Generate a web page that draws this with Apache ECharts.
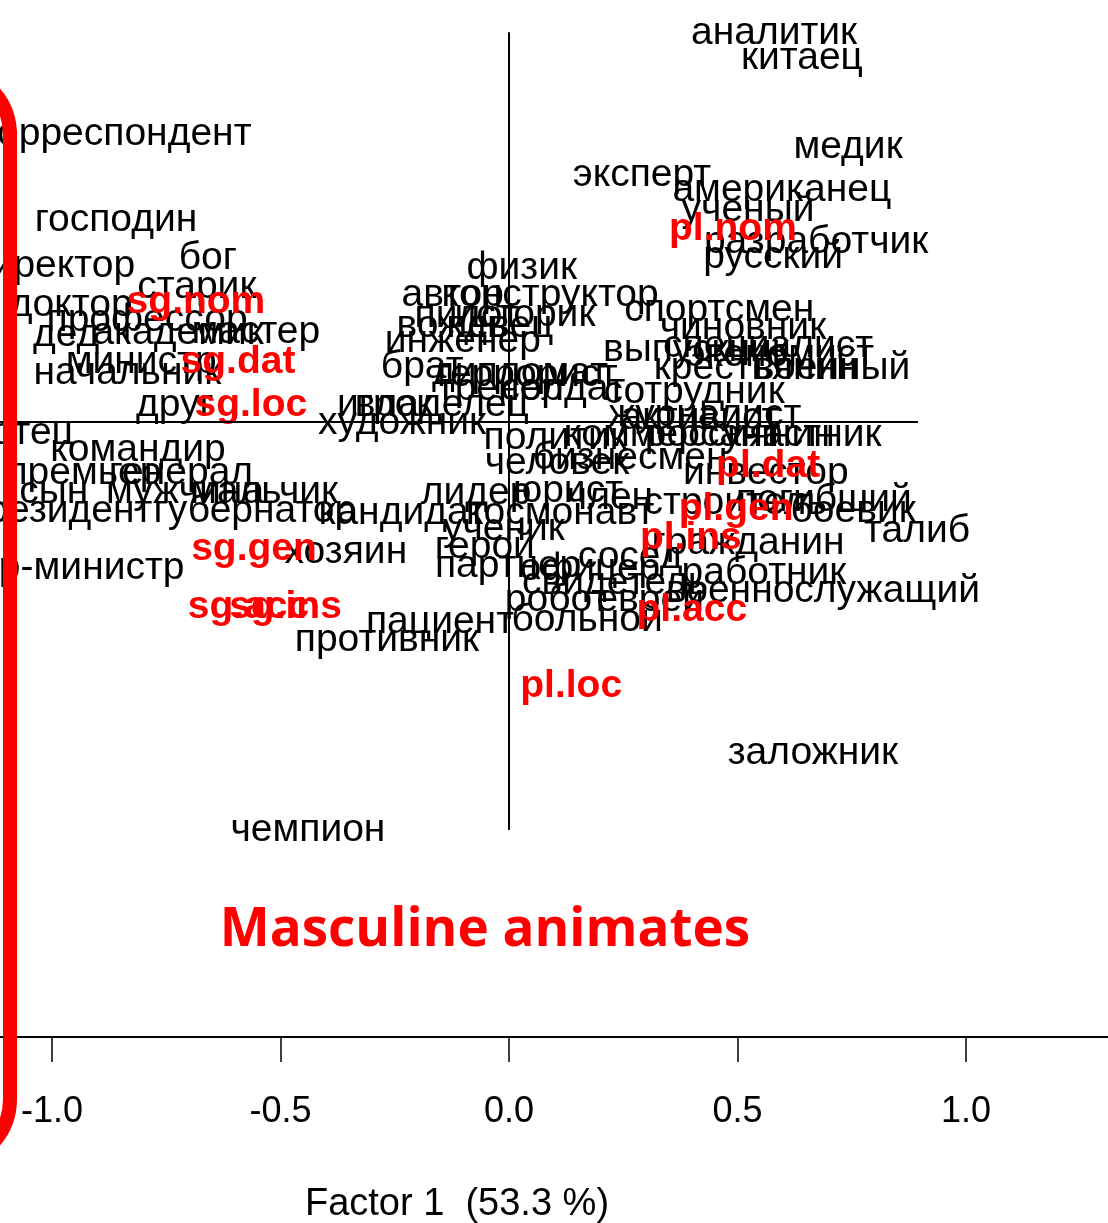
<!DOCTYPE html>
<html>
<head>
<meta charset="utf-8">
<script src="https://cdn.jsdelivr.net/npm/echarts@6/dist/echarts.min.js"></script>
<style>
  html, body { margin: 0; padding: 0; background: #fff; }
  #chart { width: 1108px; height: 1223px; }
</style>
</head>
<body>
<div id="chart"></div>
<script>
// nouns (factor 1, factor 2)
var words = ['аналитик', 'китаец', 'медик', 'эксперт', 'американец', 'ученый', 'разработчик', 'русский',
  'корреспондент', 'господин', 'бог', 'директор', 'старик', 'доктор', 'профессор', 'дед', 'академик', 'мастер',
  'министр', 'начальник', 'друг', 'отец', 'командир', 'премьер', 'генерал', 'сын', 'мужчина', 'мальчик',
  'президент', 'губернатор', 'кандидат', 'хозяин', 'премьер-министр', 'противник', 'пациент', 'больной',
  'чемпион', 'заложник', 'военнослужащий', 'работник', 'ученик', 'герой', 'гражданин', 'сосед', 'партнер',
  'офицер', 'свидетель', 'робот', 'еврей', 'физик', 'автор', 'конструктор', 'пилот', 'историк', 'вождь',
  'певец', 'инженер', 'брат', 'дипломат', 'террорист', 'тренер', 'солдат', 'сотрудник', 'игрок', 'владелец',
  'художник', 'политик', 'журналист', 'активист', 'коммерсант', 'россиянин', 'участник', 'бизнесмен',
  'человек', 'инвестор', 'лидер', 'юрист', 'член', 'строитель', 'погибший', 'боевик', 'космонавт', 'талиб',
  'спортсмен', 'чиновник', 'выпускник', 'специалист', 'экономист', 'крестьянин', 'военный']
var wordX = [0.580, 0.641, 0.742, 0.291, 0.597, 0.523, 0.672, 0.578,
  -0.861, -0.860, -0.659, -1.000, -0.683, -0.958, -0.792, -0.969, -0.724, -0.554,
  -0.805, -0.835, -0.731, -1.042, -0.812, -0.930, -0.718, -0.996, -0.709, -0.536,
  -0.985, -0.556, -0.234, -0.357, -1.059, -0.267, -0.151, 0.171,
  -0.440, 0.665, 0.687, 0.558, -0.011, -0.053, 0.523, 0.265, -0.002,
  0.177, 0.232, 0.105, 0.309, 0.028, -0.123, 0.090, -0.092, 0.035, -0.125,
  -0.020, -0.101, -0.190, 0.024, 0.035, -0.020, 0.118, 0.405, -0.271, -0.147,
  -0.234, 0.101, 0.429, 0.418, 0.357, 0.505, 0.641, 0.265,
  0.105, 0.562, -0.072, 0.129, 0.221, 0.495, 0.689, 0.753, 0.112, 0.893,
  0.460, 0.512, 0.409, 0.567, 0.593, 0.540, 0.707]
var wordY = [0.858, 0.803, 0.608, 0.547, 0.514, 0.470, 0.400, 0.368,
  0.637, 0.449, 0.365, 0.348, 0.302, 0.263, 0.230, 0.197, 0.201, 0.204,
  0.138, 0.114, 0.044, -0.018, -0.055, -0.105, -0.105, -0.147, -0.147, -0.147,
  -0.188, -0.188, -0.193, -0.278, -0.313, -0.470, -0.431, -0.427,
  -0.886, -0.718, -0.363, -0.324, -0.228, -0.267, -0.258, -0.289, -0.309,
  -0.315, -0.346, -0.383, -0.383, 0.344, 0.284, 0.284, 0.239, 0.241, 0.217,
  0.217, 0.184, 0.127, 0.114, 0.109, 0.079, 0.079, 0.072, 0.044, 0.044,
  0.004, -0.028, 0.022, 0.015, -0.022, -0.022, -0.022, -0.072,
  -0.083, -0.105, -0.149, -0.144, -0.160, -0.171, -0.164, -0.188, -0.193, -0.232,
  0.252, 0.212, 0.164, 0.173, 0.153, 0.125, 0.125]

// grammatical cases
var cases = ['sg.nom', 'sg.dat', 'sg.loc', 'sg.gen', 'sg.acc', 'sg.ins',
  'pl.nom', 'pl.dat', 'pl.gen', 'pl.ins', 'pl.acc', 'pl.loc']
var caseX = [-0.685, -0.593, -0.565, -0.558, -0.570, -0.489,
  0.490, 0.567, 0.497, 0.398, 0.400, 0.136]
var caseY = [0.267, 0.136, 0.042, -0.274, -0.400, -0.400,
  0.427, -0.092, -0.186, -0.249, -0.407, -0.573]

var xTicks = [-1.0, -0.5, 0.0, 0.5, 1.0]
var zeroLineX = [-1.12, 0.895]   // horizontal line at factor 2 = 0
var zeroLineY = [0.853, -0.893]  // vertical line at factor 1 = 0

var font = 'Liberation Sans, Arial, sans-serif'

var chart = echarts.init(document.getElementById('chart'))

var option = {
  animation: false,
  grid: { left: 0, right: 0, top: 0, bottom: 186 },
  xAxis: {
    type: 'value',
    min: -1 - 52 / 457,
    max: 1 + 142 / 457,
    splitLine: { show: false },
    axisLine: { show: true, onZero: false, lineStyle: { color: '#000', width: 2 } },
    axisTick: { show: true, length: 25, customValues: xTicks, lineStyle: { color: '#000', width: 1.5 } },
    axisLabel: {
      customValues: xTicks,
      margin: 57,
      fontSize: 36,
      color: '#000',
      fontFamily: font,
      formatter: function (v) { return v.toFixed(1) }
    }
  },
  yAxis: {
    type: 'value',
    show: false,
    min: -615 / 457,
    max: 422 / 457
  },
  series: [
    {
      type: 'line',
      symbol: 'none',
      silent: true,
      data: [[zeroLineX[0], 0], [zeroLineX[1], 0]],
      lineStyle: { color: '#000', width: 2 }
    },
    {
      type: 'line',
      symbol: 'none',
      silent: true,
      data: [[0, zeroLineY[0]], [0, zeroLineY[1]]],
      lineStyle: { color: '#000', width: 2 }
    },
    {
      type: 'scatter',
      symbolSize: 1,
      itemStyle: { color: 'rgba(0,0,0,0)', opacity: 1 },
      silent: true,
      data: words.map(function (w, i) { return [wordX[i], wordY[i], w] }),
      label: {
        show: true,
        position: 'inside',
        offset: [0, 3],
        color: '#000',
        fontSize: 39,
        fontFamily: font,
        formatter: function (p) { return p.data[2] }
      }
    },
    {
      type: 'scatter',
      symbolSize: 1,
      itemStyle: { color: 'rgba(0,0,0,0)', opacity: 1 },
      silent: true,
      data: cases.map(function (c, i) { return [caseX[i], caseY[i], c] }),
      label: {
        show: true,
        position: 'inside',
        offset: [0, 2],
        color: '#ff0000',
        fontSize: 39,
        fontWeight: 'bold',
        fontFamily: font,
        formatter: function (p) { return p.data[2] }
      }
    }
  ],
  graphic: [
    {
      type: 'text',
      x: 457,
      y: 1205,
      style: {
        text: 'Factor 1  (53.3 %)',
        fill: '#000',
        font: '38px Liberation Sans, Arial, sans-serif',
        textAlign: 'center',
        textVerticalAlign: 'middle'
      }
    },
    {
      type: 'text',
      x: 485,
      y: 931,
      style: {
        text: 'Masculine animates',
        fill: '#ff0000',
        font: 'bold 53px Open Sans, sans-serif',
        textAlign: 'center',
        textVerticalAlign: 'middle'
      }
    },
    {
      type: 'rect',
      z: 100,
      shape: { x: -500, y: 70, width: 510, height: 1094, r: 65 },
      style: { fill: 'none', stroke: '#ff0000', lineWidth: 14 }
    }
  ]
}

chart.setOption(option)
</script>
</body>
</html>
